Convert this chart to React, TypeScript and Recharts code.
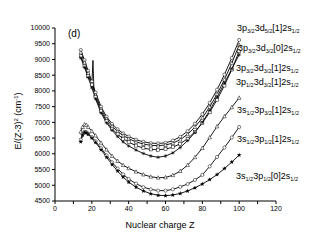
import { LineChart, Line, XAxis, YAxis } from 'recharts'

// Z values shared by the curves
const zTop = [14, 16, 18, 20, 22, 25, 28, 31, 34, 37, 40, 44, 48, 52, 56, 60, 64, 68, 72, 76, 80, 84, 88, 92, 96, 100]
const zSpike = [14, 16, 18, 20, 20.6, 21.2, 22, 25, 28, 31, 34, 37, 40, 44, 48, 52, 56, 60, 64, 68, 72, 76, 80, 84, 88, 92, 96, 100]
const zLow = [14, 15, 16, 17, 18, 20, 22, 25, 28, 31, 34, 37, 40, 44, 48, 52, 56, 60, 64, 68, 72, 76, 80, 84, 88, 92, 96, 100]

// E/(Z-3)^2 in cm^-1
const e3p32d52_1 = [9300, 8980, 8640, 8300, 7950, 7500, 7180, 6950, 6780, 6650, 6550, 6450, 6380, 6340, 6330, 6350, 6420, 6540, 6720, 6960, 7260, 7620, 8040, 8520, 9050, 9620]
const e3p32d32_0 = [9220, 8900, 8560, 8220, 7870, 7430, 7110, 6880, 6710, 6580, 6480, 6380, 6310, 6270, 6260, 6280, 6340, 6450, 6620, 6850, 7140, 7490, 7900, 8360, 8880, 9460]
const e3p32d32_1 = [9100, 8800, 8480, 8200, 8970, 7950, 7800, 7360, 7040, 6800, 6620, 6480, 6370, 6260, 6180, 6140, 6130, 6150, 6210, 6320, 6480, 6700, 6980, 7320, 7720, 8170, 8680, 9260]
const e3p12d32_1 = [9050, 8750, 8430, 8100, 7750, 7300, 6980, 6750, 6550, 6380, 6250, 6120, 6010, 5930, 5890, 5930, 6030, 6200, 6420, 6680, 7000, 7380, 7800, 8250, 8700, 9150]
const e3s3p32_1 = [6700, 6850, 6930, 6920, 6850, 6720, 6580, 6350, 6130, 5930, 5770, 5640, 5540, 5430, 5340, 5270, 5240, 5250, 5320, 5450, 5640, 5890, 6180, 6520, 6870, 7190, 7480, 7780]
const e3s3p12_1 = [6450, 6620, 6700, 6690, 6640, 6530, 6400, 6180, 5950, 5730, 5530, 5350, 5200, 5050, 4940, 4870, 4830, 4830, 4870, 4950, 5040, 5170, 5330, 5600, 5900, 6200, 6520, 6850]
const e3s3p12_0 = [6380, 6600, 6680, 6670, 6620, 6500, 6360, 6130, 5890, 5660, 5450, 5260, 5100, 4940, 4820, 4730, 4680, 4670, 4690, 4740, 4820, 4920, 5040, 5180, 5340, 5530, 5740, 5960]

const xTicks = [0, 10, 20, 30, 40, 50, 60, 70, 80, 90, 100, 110, 120]
const yTicks = [4500, 4750, 5000, 5250, 5500, 5750, 6000, 6250, 6500, 6750, 7000, 7250, 7500, 7750, 8000, 8250, 8500, 8750, 9000, 9250, 9500, 9750, 10000]

// [main, sub, main, sub, main, sub]
const curveLabels = [
  { parts: ['3p', '3/2', '3d', '5/2', '[1]2s', '1/2'], x: 237, y: 31 },
  { parts: ['3p', '3/2', '3d', '3/2', '[0]2s', '1/2'], x: 238, y: 51 },
  { parts: ['3p', '3/2', '3d', '3/2', '[1]2s', '1/2'], x: 236, y: 71 },
  { parts: ['3p', '1/2', '3d', '3/2', '[1]2s', '1/2'], x: 236, y: 85 },
  { parts: ['3s', '1/2', '3p', '3/2', '[1]2s', '1/2'], x: 237, y: 113 },
  { parts: ['3s', '1/2', '3p', '1/2', '[1]2s', '1/2'], x: 237, y: 142 },
  { parts: ['3s', '1/2', '3p', '1/2', '[0]2s', '1/2'], x: 236, y: 179 },
]

const toPoints = (z: number[], e: number[]) => z.map((v, i) => ({ z: v, e: e[i] }))

function makeDot(shape: string) {
  return (props: any) => {
    const { cx, cy, index, payload } = props
    const key = `${shape}-${index}`
    if (cx == null || cy == null || !Number.isInteger(payload.z)) return <g key={key} />
    const s = 1.8
    if (shape === 'circle')
      return <circle key={key} cx={cx} cy={cy} r={1.6} fill="#fff" stroke="#000" strokeWidth={0.5} />
    if (shape === 'square')
      return <rect key={key} x={cx - 1.5} y={cy - 1.5} width={3} height={3} fill="#fff" stroke="#000" strokeWidth={0.5} />
    if (shape === 'triangle')
      return <path key={key} d={`M${cx},${cy - s * 1.1}L${cx + s},${cy + s * 0.8}L${cx - s},${cy + s * 0.8}Z`} fill="#fff" stroke="#000" strokeWidth={0.5} />
    if (shape === 'asterisk')
      return (
        <path key={key} d={`M${cx - s},${cy}L${cx + s},${cy}M${cx},${cy - s}L${cx},${cy + s}M${cx - 1.3},${cy - 1.3}L${cx + 1.3},${cy + 1.3}M${cx - 1.3},${cy + 1.3}L${cx + 1.3},${cy - 1.3}`} stroke="#000" strokeWidth={0.5} />
      )
    // filled star
    const pts: string[] = []
    for (let k = 0; k < 10; k++) {
      const r = k % 2 === 0 ? 2.4 : 1
      const a = -Math.PI / 2 + (k * Math.PI) / 5
      pts.push(`${cx + r * Math.cos(a)},${cy + r * Math.sin(a)}`)
    }
    return <polygon key={key} points={pts.join(' ')} fill="#000" />
  }
}

const series = [
  { name: 'a', data: toPoints(zTop, e3p32d52_1), shape: 'circle' },
  { name: 'b', data: toPoints(zTop, e3p32d32_0), shape: 'triangle' },
  { name: 'c', data: toPoints(zSpike, e3p32d32_1), shape: 'square' },
  { name: 'd', data: toPoints(zTop, e3p12d32_1), shape: 'asterisk' },
  { name: 'e', data: toPoints(zLow, e3s3p32_1), shape: 'triangle' },
  { name: 'f', data: toPoints(zLow, e3s3p12_1), shape: 'circle' },
  { name: 'g', data: toPoints(zLow, e3s3p12_0), shape: 'star' },
]

const font = '"Liberation Sans", Arial, sans-serif'

export default function App() {
  return (
    <div style={{ position: 'absolute', left: 0, top: 0, width: 320, height: 245, background: '#fff' }}>
      <LineChart width={320} height={245} margin={{ top: 28, right: 44, bottom: 14, left: 15 }}>
        <XAxis
          type="number"
          dataKey="z"
          domain={[0, 120]}
          ticks={xTicks}
          tickFormatter={(v: number) => (v % 20 === 0 ? String(v) : '')}
          tickSize={3}
          height={30}
          stroke="#000"
          tick={{ fontSize: 7, fill: '#000', fontFamily: font }}
          allowDataOverflow
        />
        <YAxis
          type="number"
          dataKey="e"
          domain={[4500, 10000]}
          ticks={yTicks}
          tickFormatter={(v: number) => (v % 500 === 0 ? String(v) : '')}
          tickSize={3}
          width={40}
          stroke="#000"
          tick={{ fontSize: 7, fill: '#000', fontFamily: font }}
          allowDataOverflow
        />
        {series.map(s => (
          <Line
            key={s.name}
            data={s.data}
            dataKey="e"
            type="linear"
            stroke="#000"
            strokeWidth={0.9}
            dot={makeDot(s.shape)}
            activeDot={false}
            isAnimationActive={false}
          />
        ))}
      </LineChart>
      <svg width={320} height={245} style={{ position: 'absolute', left: 0, top: 0, pointerEvents: 'none' }}>
        <text x={68} y={37} fontSize={10} fontFamily={font}>(d)</text>
        <text x={160} y={228} fontSize={9} fontFamily={font} textAnchor="middle">Nuclear charge Z</text>
        <text transform="translate(21,121) rotate(-90)" fontSize={9} fontFamily={font} textAnchor="middle">
          E/(Z-3)<tspan fontSize={6} dy={-3}>2</tspan>
          <tspan dy={3}> (cm</tspan>
          <tspan fontSize={6} dy={-3}>-1</tspan>
          <tspan dy={3}>)</tspan>
        </text>
        {curveLabels.map((l, i) => (
          <text key={i} x={l.x} y={l.y} fontSize={9} fontFamily={font}>
            {l.parts.map((p, j) =>
              j % 2 === 0 ? (
                <tspan key={j} dy={j === 0 ? 0 : -2} fontSize={9}>{p}</tspan>
              ) : (
                <tspan key={j} dy={2} fontSize={5.5}>{p}</tspan>
              )
            )}
          </text>
        ))}
      </svg>
    </div>
  )
}
